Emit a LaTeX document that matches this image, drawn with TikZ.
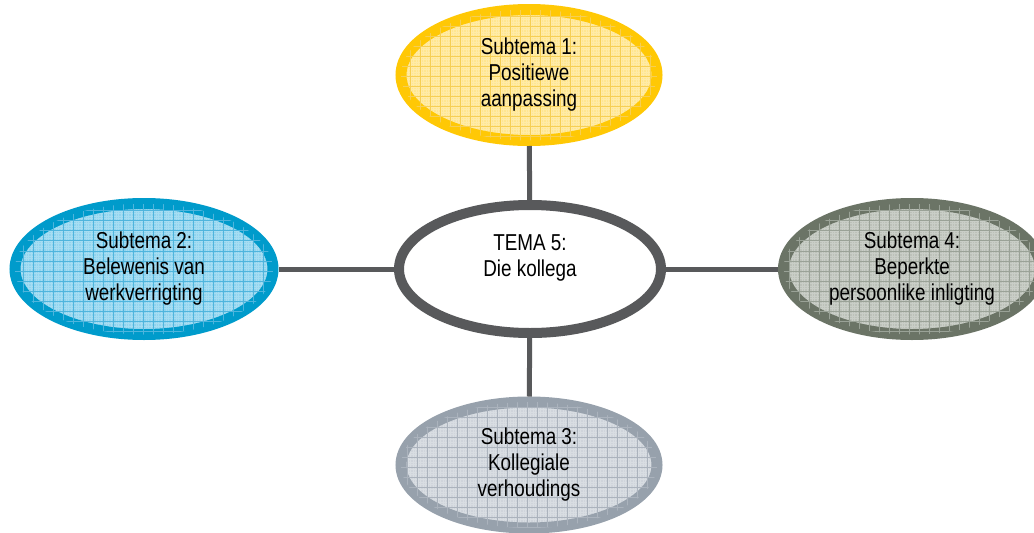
\documentclass[tikz,border=0pt]{standalone}
\usepackage{fontspec}
\setmainfont{Liberation Sans}[FakeStretch=0.82]
\usetikzlibrary{shapes.geometric}
\definecolor{ystroke}{HTML}{FFC805}
\definecolor{yfill}{HTML}{FFE690}
\definecolor{ygrid}{HTML}{F6CF55}
\definecolor{bstroke}{HTML}{009BCB}
\definecolor{bfill}{HTML}{90D4EF}
\definecolor{bgrid}{HTML}{4FB5DD}
\definecolor{gstroke}{HTML}{6B7466}
\definecolor{gfill}{HTML}{BCC1B9}
\definecolor{ggrid}{HTML}{9AA297}
\definecolor{sstroke}{HTML}{97A1AC}
\definecolor{sfill}{HTML}{CFD4DB}
\definecolor{sgrid}{HTML}{ABB3BD}
\definecolor{dark}{HTML}{58595B}
\tikzset{
  bubble/.style={ellipse, line width=11pt, minimum width=256pt, minimum height=131pt,
    inner sep=0pt, align=center, font=\fontsize{23}{26}\selectfont, text=black},
  gridfill/.style={fill=#1, path picture={
    \draw[#1!80!white, line width=0.25pt]
      (path picture bounding box.south west) grid[step=2.5pt] (path picture bounding box.north east);}},
  gridlines/.style={postaction={path picture={
    \draw[#1, line width=0.9pt]
      (path picture bounding box.south west) grid[step=10pt] (path picture bounding box.north east);}}},
  link/.style={draw=dark, line width=5pt}
}
\begin{document}
\begin{tikzpicture}[x=1pt,y=-1pt]
\useasboundingbox (0,0) rectangle (1034,533);
\node[bubble, draw=dark, line width=10pt, fill=white, minimum width=262pt, minimum height=128pt] (c) at (530,269) {TEMA 5:\\Die kollega\\\mbox{}};
\node[bubble, draw=ystroke, gridfill=yfill, gridlines=ygrid] (t) at (529,75) {Subtema 1:\\Positiewe\\aanpassing};
\node[bubble, draw=bstroke, gridfill=bfill, gridlines=bgrid, minimum width=258pt] (l) at (144,269) {Subtema 2:\\Belewenis van\\werkverrigting};
\node[bubble, draw=gstroke, gridfill=gfill, gridlines=ggrid, minimum width=257pt] (r) at (912,269) {Subtema 4:\\Beperkte\\persoonlike inligting};
\node[bubble, draw=sstroke, gridfill=sfill, gridlines=sgrid, minimum height=126pt] (b) at (529,465) {Subtema 3:\\Kollegiale\\verhoudings};
\draw[link] (t) -- (c);
\draw[link] (c) -- (b);
\draw[link] (l) -- (c);
\draw[link] (c) -- (r);
\end{tikzpicture}
\end{document}
